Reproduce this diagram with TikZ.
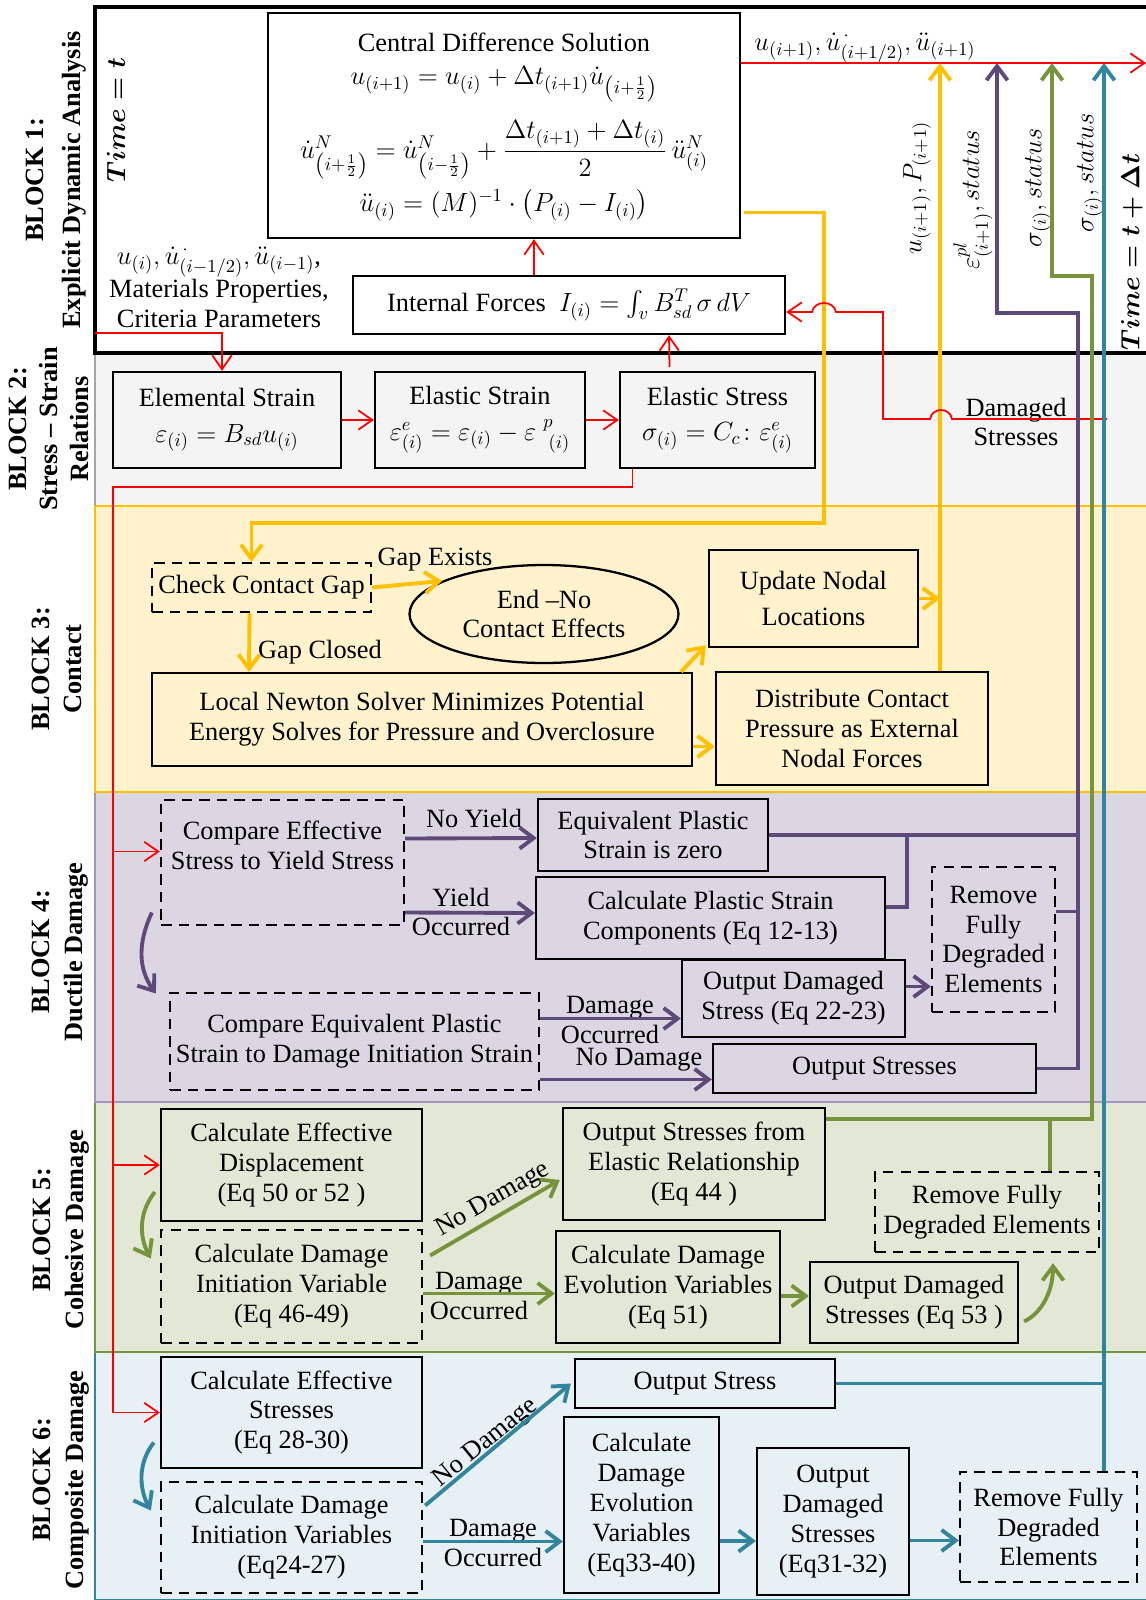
\RequirePackage{fix-cm}
\documentclass[tikz,border=0pt]{standalone}
\usepackage[no-math]{fontspec}
\setmainfont{Liberation Serif}
\usepackage{amsmath}
\usetikzlibrary{arrows.meta,calc,shapes.geometric}

\definecolor{cyel}{HTML}{FFC000}
\definecolor{cpur}{HTML}{5F497A}
\definecolor{cgrn}{HTML}{77933C}
\definecolor{ctea}{HTML}{31859C}
\definecolor{fill2}{HTML}{F4F4F4}
\definecolor{fill3}{HTML}{FFF2CC}
\definecolor{fill4}{HTML}{DBD7E2}
\definecolor{fill5}{HTML}{E3E8D6}
\definecolor{fill6}{HTML}{E7F0F4}
\definecolor{line2}{HTML}{A6A6A6}
\definecolor{line4}{HTML}{A594BE}

\begin{document}
\begin{tikzpicture}[x=0.02cm,y=-0.02cm,
  font=\fontsize{15}{17}\selectfont,
  box/.style={draw,line width=1.3pt,align=center,inner sep=0pt},
  dbox/.style={box,dash pattern=on 6pt off 4pt},
  sz/.style 2 args={minimum width=#1*0.02cm,minimum height=#2*0.02cm},
  blk/.style={rotate=90,align=center,font=\fontsize{15}{18.5}\selectfont\bfseries},
  vlab/.style={rotate=90,inner sep=0pt},
  lab/.style={align=center,inner sep=0pt},
  rline/.style={red,line width=1pt},
  rarr/.style={rline,-{Straight Barb[length=8pt,width=11pt]}},
  yline/.style={cyel,line width=2.2pt},
  yarr/.style={yline,-{Straight Barb[length=8pt,width=12pt]}},
  pline/.style={cpur,line width=2.2pt},
  parr/.style={pline,-{Straight Barb[length=8pt,width=12pt]}},
  gline/.style={cgrn,line width=2.2pt},
  garr/.style={gline,-{Straight Barb[length=8pt,width=12pt]}},
  tline/.style={ctea,line width=2.2pt},
  tarr/.style={tline,-{Straight Barb[length=8pt,width=12pt]}}]
\useasboundingbox (0,0) rectangle (1146,1600);

% bands
\fill[fill6] (95,1352) rectangle (1150,1600);
\fill[fill5] (95,1102) rectangle (1150,1352);
\fill[fill4] (95,792) rectangle (1150,1102);
\fill[fill3] (95,506) rectangle (1150,792);
\fill[fill2] (95,353) rectangle (1150,506);
\draw[ctea,line width=1.5pt] (1150,1352) -- (95,1352) -- (95,1600) -- (1150,1600);
\draw[cgrn,line width=1.5pt] (1150,1102) -- (95,1102) -- (95,1352) -- (1150,1352);
\draw[line4,line width=1.5pt] (1150,792) -- (95,792) -- (95,1102) -- (1150,1102);
\draw[cyel,line width=1.5pt] (1150,506) -- (95,506) -- (95,792) -- (1150,792);
\draw[line2,line width=1.5pt] (1150,353) -- (95,353) -- (95,506);
\draw[line width=1.8pt] (1150,7) -- (95,7) -- (95,353) -- (1150,353);

\node[blk,font=\fontsize{15}{21}\selectfont\bfseries] (lb1) at (56,180) {BLOCK 1:\\Explicit Dynamic Analysis};
\node[blk,font=\fontsize{15}{17.5}\selectfont\bfseries] (lb2) at (49,429) {BLOCK 2:\\Stress -- Strain\\Relations};
\node[blk] (lb3) at (57,669) {BLOCK 3:\\Contact};
\node[blk] (lb4) at (60,952) {BLOCK 4:\\Ductile Damage};
\node[blk] (lb5) at (61,1230) {BLOCK 5:\\Cohesive Damage};
\node[blk] (lb6) at (61,1480) {BLOCK 6:\\Composite Damage};

% block 1
\node[box,sz={472}{225}] (cds) at (504,125.5) {};
\node[lab] (cdsT) at (504,42) {Central Difference Solution};
\node[lab] (cdsA) at (504,84) {$u_{(i+1)} = u_{(i)} + \Delta t_{(i+1)}\dot{u}_{\left(i+\frac{1}{2}\right)}$};
\node[lab] (cdsB) at (504,150) {$\dot{u}^{N}_{\left(i+\frac{1}{2}\right)} = \dot{u}^{N}_{\left(i-\frac{1}{2}\right)} + \dfrac{\Delta t_{(i+1)}+\Delta t_{(i)}}{2}\,\ddot{u}^{N}_{(i)}$};
\node[lab] (cdsC) at (504,205) {$\ddot{u}_{(i)} = (M)^{-1}\cdot\bigl(P_{(i)} - I_{(i)}\bigr)$};
\node[lab] (inTxt) at (219,287) {$u_{(i)},\dot{u}^{\,\cdot}_{(i-1/2)},\ddot{u}_{(i-1)}$,\\Materials Properties,\\Criteria Parameters};
\node[box,sz={432}{58}] (ifb) at (569,305) {Internal Forces\ \ $I_{(i)} = \int_{v} B^{T}_{sd}\,\sigma\, dV$};
\node[vlab] (tt) at (116,120) {$\boldsymbol{Time = t}$};
\node[lab] (outTxt) at (865,48) {$u_{(i+1)},\dot{u}^{\,\cdot}_{(i+1/2)},\ddot{u}_{(i+1)}$};
\node[vlab] (vl1) at (917,188) {$u_{(i+1)},P_{(i+1)}$};
\node[vlab] (vl2) at (973,200) {$\varepsilon^{pl}_{(i+1)},status$};
\node[vlab] (vl3) at (1038,188) {$\sigma_{(i)},status$};
\node[vlab] (vl4) at (1090,173) {$\sigma_{(i)},status$};
\node[vlab] (tdt) at (1132,252) {$\boldsymbol{Time = t+\Delta t}$};

% block 2
\node[box,sz={228}{96}] (es1) at (227,420) {Elemental Strain\\[3pt]$\varepsilon_{(i)} = B_{sd}u_{(i)}$};
\node[box,sz={210}{96}] (es2) at (480,420) {Elastic Strain\\[3pt]$\varepsilon^{e}_{(i)} = \varepsilon_{(i)} - \varepsilon\;{}^{p}_{\;(i)}$};
\node[box,sz={195}{96}] (es3) at (717.5,420) {Elastic Stress\\[3pt]$\sigma_{(i)} = C_{c}\colon\varepsilon^{e}_{(i)}$};
\node[lab] (dsT) at (1016,422) {Damaged\\Stresses};

% block 3
\node[dbox,sz={219}{49}] (ccg) at (261.5,587.5) {Check Contact Gap};
\node[draw,ellipse,line width=1.3pt,sz={269}{98},inner sep=0pt,align=center] (endNo) at (544,614) {End --No\\Contact Effects};
\node[box,sz={209}{97}] (upd) at (813.5,598.5) {Update Nodal\\[3pt]Locations};
\node[box,sz={540}{93}] (lns) at (422,719.5) {Local Newton Solver Minimizes Potential\\Energy Solves for Pressure and Overclosure};
\node[box,sz={272}{113}] (dcp) at (852,728.5) {Distribute Contact\\Pressure as External\\Nodal Forces};
\node[lab] (gapE) at (435,560) {Gap Exists};
\node[lab] (gapC) at (320,652) {Gap Closed};

% block 4
\node[dbox,sz={243}{125}] (cmp1) at (282.5,862.5) {};
\node[lab] (cmp1T) at (282.5,845) {Compare Effective\\Stress to Yield Stress};
\node[box,sz={230}{72}] (epz) at (653,835) {Equivalent Plastic\\Strain is zero};
\node[box,sz={349}{82}] (cps) at (710.5,918) {Calculate Plastic Strain\\Components (Eq 12-13)};
\node[dbox,sz={123}{145}] (rfd4) at (993.5,939.5) {Remove\\Fully\\Degraded\\Elements};
\node[box,sz={223}{77}] (ods4) at (793.5,998.5) {Output Damaged\\Stress (Eq 22-23)};
\node[dbox,sz={369}{97}] (cmp2) at (354.5,1041.5) {Compare Equivalent Plastic\\Strain to Damage Initiation Strain};
\node[box,sz={323}{49}] (os4) at (874.5,1068.5) {Output Stresses};
\node[lab] (noY) at (474,818) {No Yield};
\node[lab] (yOc) at (461,912) {Yield\\Occurred};
\node[lab] (dOc4) at (610,1020) {Damage\\Occurred};
\node[lab] (noD4) at (639,1060) {No Damage};

% block 5
\node[box,sz={261}{112}] (ced) at (291.5,1165) {Calculate Effective\\Displacement\\(Eq 50 or 52 )};
\node[dbox,sz={261}{113}] (cdi5) at (291.5,1286.5) {Calculate Damage\\Initiation Variable\\(Eq 46-49)};
\node[box,sz={262}{112}] (ose) at (694,1164) {Output Stresses from\\Elastic Relationship\\(Eq 44 )};
\node[box,sz={224}{112}] (cde5) at (668,1287) {Calculate Damage\\Evolution Variables\\(Eq 51)};
\node[box,sz={208}{81}] (ods5) at (914,1302.5) {Output Damaged\\Stresses (Eq 53 )};
\node[dbox,sz={224}{80}] (rfd5) at (987,1212) {Remove Fully\\Degraded Elements};
\node[lab,rotate=30] (noD5) at (493,1200) {No Damage};
\node[lab] (dOc5) at (479,1296) {Damage\\Occurred};

% block 6
\node[box,sz={261}{111}] (ces) at (291.5,1412.5) {Calculate Effective\\Stresses\\(Eq 28-30)};
\node[dbox,sz={261}{111}] (cdi6) at (291.5,1537.5) {Calculate Damage\\Initiation Variables\\(Eq24-27)};
\node[box,sz={260}{49}] (os6) at (705,1383.5) {Output Stress};
\node[box,sz={155}{176}] (cde6) at (641.5,1505) {Calculate\\Damage\\Evolution\\Variables\\(Eq33-40)};
\node[box,sz={152}{147}] (ods6) at (833,1521.5) {Output\\Damaged\\Stresses\\(Eq31-32)};
\node[dbox,sz={177}{110}] (rfd6) at (1048.5,1527) {Remove Fully\\Degraded\\Elements};
\node[lab,rotate=39] (noD6) at (486,1443) {No Damage};
\node[lab] (dOc6) at (493,1543) {Damage\\Occurred};

% bus points
\coordinate (inp) at (95,333);
\coordinate (tnext) at (1146,63);
\coordinate (ytop) at (940,63);
\coordinate (ptop) at (997,63);
\coordinate (gtop) at (1052,63);
\coordinate (ttop) at (1104,63);
\coordinate (pbus) at (1078,313);
\coordinate (gbus) at (1092,276);
\coordinate (rbus) at (113,487);
\coordinate (dmg) at (1107,419);
\coordinate (r4) at ($(cmp1.west)+(0,-11)$);

% red
\draw[rarr] (cds.north east |- tnext) -- (tnext);
\draw[rarr] ($(ifb.north)+(-35,0)$) -- ($(cds.south)+(30,0)$);
\draw[rarr] (inp) -| ($(es1.north)+(-5,0)$);
\draw[rarr] ($(es3.north)+(-48,-4)$) -- ($(ifb.south)+(100,0)$);
\draw[rarr] (es1) -- (es2);
\draw[rarr] (es2) -- (es3);
\draw[rarr] ($(es3.south)+(-85,0)$) |- (rbus) |- (ces.west);
\draw[rarr] (rbus |- r4) -- (r4);
\draw[rarr] (rbus |- ced.west) -- (ced.west);

% yellow
\draw[yarr] ($(cds.east)+(3,87)$) -| (824,523) -| ($(ccg.north)+(-10,0)$);
\draw[yarr] (ccg.east) -- (endNo.162);
\draw[yarr] ($(ccg.south)+(-12,0)$) -- ($(lns.north)+(-173,0)$);
\draw[yarr] ($(lns.north east)+(-12,0)$) -- ($(upd.south west)+(-2,-3)$);
\draw[yarr] ($(lns.east)+(0,27)$) -- ($(dcp.west)+(0,18)$);
\draw[yarr] ($(dcp.north)+(88,0)$) -- (ytop);
\draw[yarr] (upd.east) -- (upd.east -| ytop);

% damaged stresses
\draw[rarr] (dmg) -- (952,419) .. controls (950,407) and (932,407) .. (930,419) -- (883,419) -- (883,312)
  -- (836,312) .. controls (834,300) and (814,300) .. (812,312) -- ($(ifb.east)+(0,7)$);

% purple
\draw[parr] ($(cmp1.east)+(0,-24)$) -- ($(epz.west)+(0,3)$);
\draw[parr] ($(cmp1.east)+(0,50)$) -- ($(cps.west)+(0,-5)$);
\draw[pline] (epz.east) -- (epz.east -| pbus);
\draw[pline] ($(cps.east)+(0,-11)$) -| ($(epz.east)+(138,0)$);
\draw[pline] ($(rfd4.east)+(0,-28)$) coordinate (r4e) -- (r4e -| pbus);
\draw[parr] ($(ods4.east)+(0,-12)$) coordinate (o4e) -- (o4e -| rfd4.west);
\draw[parr] ($(cmp2.east)+(0,-23)$) coordinate (c2a) -- (c2a -| ods4.west);
\draw[parr] ($(cmp2.east)+(0,38)$) coordinate (c2b) -- (c2b -| os4.west);
\draw[parr] (os4.east) -| (pbus) -| (ptop);
\draw[parr] ($(cmp1.west)+(-8,50)$) .. controls +(-14,30) and +(-18,-25) .. ($(cmp2.west)+(-13,-48)$);

% green
\draw[garr] ($(ced.west)+(-5,27)$) .. controls +(-16,20) and +(-12,-22) .. ($(cdi5.west)+(-9,-28)$);
\draw[garr] ($(cdi5.east)+(7,-31)$) -- ($(ose.west)+(-2,16)$);
\draw[garr] ($(cdi5.east)+(0,7)$) coordinate (c5a) -- (c5a -| cde5.west);
\draw[garr] ($(cde5.east)+(0,9)$) coordinate (c5b) -- (c5b -| ods5.west);
\draw[garr] ($(ods5.east)+(5,19)$) .. controls +(20,-10) and +(0,25) .. ($(rfd5.south)+(66,10)$);
\draw[garr] ($(ose.north east)+(0,12)$) coordinate (g5) -| (gbus) -| (gtop);
\draw[gline] ($(rfd5.north)+(63,0)$) coordinate (r5n) -- (r5n |- g5);

% teal
\draw[tarr] ($(ces.west)+(-6,30)$) .. controls +(-16,20) and +(-12,-22) .. ($(cdi6.west)+(-9,-27)$);
\draw[tarr] ($(cdi6.east)+(2,-32)$) -- ($(os6.west)+(-3,0)$);
\draw[tarr] ($(cdi6.east)+(0,4)$) coordinate (c6a) -- (c6a -| cde6.west);
\draw[tarr] ($(cde6.east)+(0,36)$) coordinate (c6b) -- (c6b -| ods6.west);
\draw[tarr] ($(ods6.east)+(0,19)$) coordinate (c6c) -- (c6c -| rfd6.west);
\draw[tline] (os6.east) -- (os6.east -| ttop);
\draw[tarr] ($(rfd6.north)+(55.5,0)$) -- (ttop);
\end{tikzpicture}
\end{document}
